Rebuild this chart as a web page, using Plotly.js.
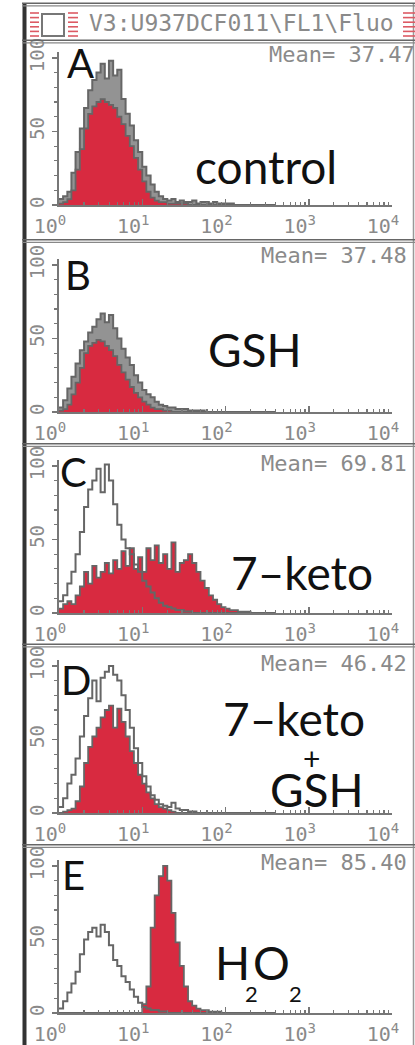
<!DOCTYPE html>
<html><head><meta charset="utf-8">
<script src="https://cdn.plot.ly/plotly-3.0.1.min.js"></script>
<style>html,body{margin:0;padding:0;background:#fff;}#chart{width:415px;height:1045px;}</style>
</head><body><div id="chart"></div>
<script>
// FL1 channel bins (fluorescence, linear units, log-spaced)
const fl1 = [1.00,1.12,1.26,1.41,1.58,1.78,2.00,2.24,2.51,2.82,3.16,3.55,3.98,4.47,5.01,5.62,6.31,7.08,7.94,8.91,
  10.0,11.2,12.6,14.1,15.8,17.8,20.0,22.4,25.1,28.2,31.6,35.5,39.8,44.7,50.1,56.2,63.1,70.8,79.4,89.1,
  100,112,126,141,158,178,200,224,251,282,316,355,398];

// Panel A - control
const ctrlA = [4,6,9,22,36,52,66,78,85,90,96,86,98,88,92,72,62,54,44,36,26,20,14,9,6,4,3,4,2,3,2,2,3,1,2,2,1,2,1,1,1,1,0,0,0,0,0,0,0,0,0,0,0];
const sampA = [1,2,4,10,24,38,52,62,67,70,72,70,68,66,60,55,47,40,32,24,16,9,5,3,2,2,1,1,1,1,1,0,0,0,0,0,0,0,0,0,0,0,0,0,0,0,0,0,0,0,0,0,0];
// Panel B - GSH
const ctrlB = [3,8,16,24,33,42,48,54,58,63,67,61,66,57,50,43,37,32,25,20,15,12,10,7,5,4,3,3,2,2,2,1,1,1,1,0,0,0,0,0,0,0,0,0,0,0,0,0,0,0,0,0,0];
const sampB = [1,2,5,12,20,30,40,45,47,49,48,45,42,38,32,27,22,17,13,10,7,5,3,2,2,1,1,0,0,0,0,0,0,0,0,0,0,0,0,0,0,0,0,0,0,0,0,0,0,0,0,0,0];
// Panel C - 7-keto
const ctrlC = [8,12,20,28,40,55,72,84,90,98,82,101,90,74,60,50,44,40,33,28,22,18,14,10,7,5,4,3,2,2,1,1,0,0,0,0,0,0,0,0,0,0,0,0,0,0,0,0,0,0,0,0,0];
const sampC = [3,6,8,6,12,18,28,20,32,24,28,34,27,36,30,42,32,44,30,38,28,44,36,46,34,40,30,48,28,34,36,40,34,28,22,17,12,9,6,4,3,2,2,1,1,1,0,0,0,0,0,0,0];
// Panel D - 7-keto + GSH
const ctrlD = [4,10,20,26,37,52,66,78,90,76,92,96,100,94,90,80,70,58,44,34,25,18,12,9,6,5,4,7,3,2,2,1,1,0,0,0,0,0,0,0,0,0,0,0,0,0,0,0,0,0,0,0,0];
const sampD = [0,1,2,3,8,18,34,45,52,58,65,70,73,58,71,62,52,42,34,26,20,14,10,6,4,3,2,1,0,0,0,0,0,0,0,0,0,0,0,0,0,0,0,0,0,0,0,0,0,0,0,0,0];
// Panel E - H2O2
const ctrlE = [3,8,14,20,28,40,50,55,58,52,60,55,46,36,32,25,21,16,11,7,4,3,2,2,1,1,0,0,0,0,0,0,0,0,0,0,0,0,0,0,0,0,0,0,0,0,0,0,0,0,0,0,0];
const sampE = [0,0,0,0,0,0,0,0,0,0,0,0,0,0,0,0,0,0,0,0,6,18,58,80,93,100,90,68,48,32,18,8,5,3,2,2,1,1,1,0,0,0,0,0,0,0,0,0,0,0,0,0,0];

const panelLetters = ['A','B','C','D','E'];
const means = ['Mean= 37.47','Mean= 37.48','Mean= 69.81','Mean= 46.42','Mean= 85.40'];
const xTickVals = [1,10,100,1000,10000];
const xTickText = ['10<sup>0</sup>','10<sup>1</sup>','10<sup>2</sup>','10<sup>3</sup>','10<sup>4</sup>'];
const yTickVals = [0,50,100];
const yTickText = ['0','50','100'];
const headerText = 'V3:U937DCF011\\FL1\\Fluo';

const ctrl = [ctrlA,ctrlB,ctrlC,ctrlD,ctrlE];
const samp = [sampA,sampB,sampC,sampD,sampE];
const ctrlShaded = [true, true, false, false, false];

const W = 415, H = 1045;
const X = p => p / W, Y = p => 1 - p / H;
const baselines = [205, 412, 613, 813, 1013];
const mono = 'DejaVu Sans Mono, Liberation Mono, monospace';
const sans = 'Lato, Open Sans, sans-serif';
const gray = '#666', red = 'rgb(216,42,64)', txtGray = '#8a8a8a';

const data = [];
const layout = {
  width: W, height: H, margin: {l:0,r:0,t:0,b:0},
  paper_bgcolor: '#fff', plot_bgcolor: 'rgba(0,0,0,0)',
  showlegend: false, annotations: [], shapes: []
};

for (let i = 0; i < 5; i++) {
  const n = i === 0 ? '' : String(i + 1);
  const b = baselines[i];
  const ctrlTrace = {x: fl1, y: ctrl[i], xaxis: 'x' + n, yaxis: 'y' + n, type: 'scatter', mode: 'lines',
    line: {shape: 'hv', color: gray, width: 2}, hoverinfo: 'skip'};
  if (ctrlShaded[i]) { ctrlTrace.fill = 'tozeroy'; ctrlTrace.fillcolor = 'rgba(120,120,120,0.8)'; data.push(ctrlTrace); }
  data.push({x: fl1, y: samp[i], xaxis: 'x' + n, yaxis: 'y' + n, type: 'scatter', mode: 'lines',
    line: {shape: 'hv', color: gray, width: 1.8}, fill: 'tozeroy', fillcolor: red, hoverinfo: 'skip'});
  if (!ctrlShaded[i]) data.push(ctrlTrace);
  layout['xaxis' + n] = {
    type: 'log', range: [0, 4], domain: [X(59), X(392)], anchor: 'y' + n,
    showline: true, linecolor: '#777', linewidth: 2, showgrid: false, zeroline: false,
    ticks: 'inside', ticklen: 6, tickwidth: 1.5, tickcolor: '#777',
    tickmode: 'array', tickvals: xTickVals, ticktext: xTickText, ticklabelshift: -9, ticklabelstandoff: 2,
    tickfont: {family: mono, size: 20, color: txtGray},
    minor: {dtick: 'D1', ticks: 'inside', ticklen: 3, tickwidth: 1.2, tickcolor: '#777', showgrid: false},
    fixedrange: true
  };
  layout['yaxis' + n] = {
    range: [0, 104], domain: [Y(b), Y(b - 153)], anchor: 'x' + n,
    showline: true, linecolor: '#777', linewidth: 2, showgrid: false, zeroline: false,
    ticks: 'outside', ticklen: 5, tickwidth: 1.5, tickcolor: '#777',
    tickmode: 'array', tickvals: yTickVals, ticktext: yTickText, tickangle: -90,
    tickfont: {family: mono, size: 19, color: txtGray},
    minor: {dtick: 10, tick0: 0, ticks: 'outside', ticklen: 3, tickwidth: 1.2, tickcolor: '#777'},
    fixedrange: true
  };
}

const ann = (t, x, y, opts) => Object.assign({text: t, x: X(x), y: Y(y), xref: 'paper', yref: 'paper',
  showarrow: false, xanchor: 'center', yanchor: 'middle'}, opts || {});

// panel letters
const letterPos = [[80,63],[78,275],[73,472],[76,680],[73,875]];
panelLetters.forEach((L, i) => layout.annotations.push(ann(L, letterPos[i][0], letterPos[i][1], {font: {family: sans, size: 40, color: '#111'}})));
// mean values
const meanY = [55, 255, 463, 663, 862];
means.forEach((m, i) => layout.annotations.push(ann(m, i === 0 ? 267 : 409, meanY[i],
  {xanchor: i === 0 ? 'left' : 'right', font: {family: mono, size: 22, color: txtGray}})));
// treatment labels
const big = {family: sans, size: 46, color: '#111'};
layout.annotations.push(ann('control', 266, 166, {font: big}));
layout.annotations.push(ann('GSH', 255, 350, {font: big}));
layout.annotations.push(ann('7–keto', 302, 572, {font: big}));
layout.annotations.push(ann('7–keto', 294, 718, {font: big}));
layout.annotations.push(ann('+', 311, 758, {font: {family: sans, size: 30, color: '#111'}}));
layout.annotations.push(ann('GSH', 317, 789, {font: big}));
layout.annotations.push(ann('H', 232, 962, {font: big}));
layout.annotations.push(ann('O', 271, 962, {font: big}));
layout.annotations.push(ann('2', 251, 993, {font: {family: sans, size: 22, color: '#111'}}));
layout.annotations.push(ann('2', 295, 993, {font: {family: sans, size: 22, color: '#111'}}));
// header
layout.annotations.push(ann(headerText, 87, 23, {xanchor: 'left', font: {family: mono, size: 23, color: txtGray}}));

// frame shapes
const line = (x0, y0, x1, y1, c, w) => ({type: 'line', xref: 'paper', yref: 'paper', x0: X(x0), y0: Y(y0), x1: X(x1), y1: Y(y1), line: {color: c, width: w}});
layout.shapes.push(line(24.5, 3, 24.5, 1045, '#333', 4));
layout.shapes.push(line(413.5, 3, 413.5, 1045, '#999', 1.5));
[4.5, 41.5, 241, 445, 645.5, 846].forEach(y => {
  layout.shapes.push(line(22, y - 1.3, 415, y - 1.3, '#666', 1.4));
  layout.shapes.push(line(22, y + 1.3, 415, y + 1.3, '#888', 1.2));
});
// header icons
layout.shapes.push({type: 'rect', xref: 'paper', yref: 'paper', x0: X(42), x1: X(64), y0: Y(36), y1: Y(14), line: {color: '#777', width: 2}});
[[30,39],[68,78],[403,415]].forEach(([a, c]) => {
  for (let k = 0; k < 6; k++) layout.shapes.push(line(a, 13 + k * 4.6, c, 13 + k * 4.6, 'rgb(220,90,100)', 1.6));
});

Plotly.newPlot('chart', data, layout, {staticPlot: true, displayModeBar: false});
</script></body></html>
